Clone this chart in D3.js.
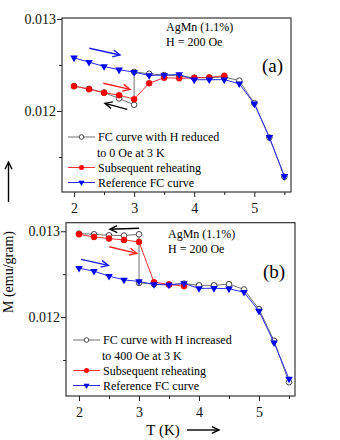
<!DOCTYPE html>
<html>
<head>
<meta charset="utf-8">
<script src="https://cdn.jsdelivr.net/npm/d3@7"></script>
<style>
  body { margin: 0; background: #fff; }
  svg { display: block; font-family: "Liberation Serif", "DejaVu Serif", serif; }
</style>
</head>
<body>
<svg id="chart" width="340" height="440"></svg>
<script>
// temperatures (K)
const temps = [2, 2.25, 2.5, 2.75, 3, 3.25, 3.5, 3.75, 4, 4.25, 4.5, 4.75, 5, 5.25, 5.5];

// panel (a): H reduced to 0 Oe at 3 K
const refA = [0.012578, 0.01253, 0.012484, 0.012448, 0.012422, 0.012386, 0.01239, 0.012397, 0.012339, 0.01234, 0.01234, 0.012296, 0.012078, 0.011715, 0.011291];
const reheatTempsA = [2, 2.25, 2.5, 2.75, 3, 3.25, 3.5, 3.75, 4, 4.25, 4.5];
const reheatA = [0.01227, 0.012237, 0.012198, 0.012172, 0.012128, 0.012302, 0.012361, 0.012355, 0.01236, 0.012365, 0.012383];
const fcTempsA = [5.5, 5.25, 5, 4.75, 4.5, 4.25, 4, 3.75, 3.5, 3.25, 3, 3, 2.75, 2.5, 2.25, 2];
const fcA = [0.011285, 0.011712, 0.012085, 0.01233, 0.01237, 0.012362, 0.01236, 0.01238, 0.01239, 0.012404, 0.012425, 0.012067, 0.012136, 0.0122, 0.01224, 0.01227];

// panel (b): H increased to 400 Oe at 3 K
const refB = [0.01257, 0.012535, 0.012477, 0.012434, 0.012415, 0.01238, 0.012375, 0.012392, 0.012334, 0.012336, 0.01233, 0.01229, 0.01207, 0.011702, 0.011279];
const reheatTempsB = [2, 2.25, 2.5, 2.75, 3, 3.25, 3.5, 3.75];
const reheatB = [0.012965, 0.012934, 0.012915, 0.012899, 0.012876, 0.012407, 0.01238, 0.01236];
const fcTempsB = [5.5, 5.25, 5, 4.75, 4.5, 4.25, 4, 3.75, 3.5, 3.25, 3, 3, 2.75, 2.5, 2.25, 2];
const fcB = [0.01124, 0.011725, 0.012093, 0.012322, 0.012384, 0.01237, 0.01237, 0.01239, 0.012378, 0.012385, 0.012399, 0.012965, 0.01295, 0.012953, 0.012965, 0.012973];

// ticks
const xMajor = [2, 3, 4, 5];
const xMinor = [2.5, 3.5, 4.5, 5.5];
const yMajor = [0.012, 0.013];
const yMinor = [0.0115, 0.0125];

// legend texts
const legendA = [["FC curve with H reduced", "to 0 Oe at 3 K"], ["Subsequent reheating"], ["Reference FC curve"]];
const legendB = [["FC curve with H increased", "to 400 Oe at 3 K"], ["Subsequent reheating"], ["Reference FC curve"]];

// arrows [T1, M1, T2, M2] (head at second point)
const arrowsA = [
    { c: "#1a1aff", p: [2.254, 0.012681, 2.765, 0.012608] },
    { c: "#ff2020", p: [2.487, 0.012301, 2.931, 0.012235] },
    { c: "#000", p: [2.886, 0.012018, 2.515, 0.012083] }
];
const arrowsB = [
    { c: "#000", p: [3.0, 0.013035, 2.516, 0.013023] },
    { c: "#ff2020", p: [2.505, 0.01282, 2.962, 0.012743] },
    { c: "#1a1aff", p: [2.033, 0.012673, 2.488, 0.012603] }
];

const svg = d3.select("#chart");

let drawArrow = (g, x1, y1, x2, y2, color) => {
    let ang = Math.atan2(y2 - y1, x2 - x1);
    let len = 8, w = 0.45;
    g.append("line").attr("x1", x1).attr("y1", y1).attr("x2", x2).attr("y2", y2)
        .attr("stroke", color).attr("stroke-width", 1.4);
    let pts = [
        [x2 - len * Math.cos(ang - w), y2 - len * Math.sin(ang - w)],
        [x2, y2],
        [x2 - len * Math.cos(ang + w), y2 - len * Math.sin(ang + w)]
    ];
    g.append("polyline").attr("points", pts.map(p => p.join(",")).join(" "))
        .attr("fill", "none").attr("stroke", color).attr("stroke-width", 1.4);
};

let triangle = d3.symbol().type(d3.symbolTriangle).size(25);
let smallTriangle = d3.symbol().type(d3.symbolTriangle).size(16);

function drawPanel(cfg) {
    const x = d3.scaleLinear().domain(cfg.xDom).range([cfg.left, cfg.right]);
    const y = d3.scaleLinear().domain(cfg.yDom).range([cfg.bottom, cfg.top]);
    const g = svg.append("g");

    // axes
    let ax = g.append("g").attr("transform", `translate(0,${cfg.bottom})`)
        .call(d3.axisBottom(x).tickValues(xMajor).tickSize(5).tickSizeOuter(0).tickFormat(d3.format("d")));
    let axm = g.append("g").attr("transform", `translate(0,${cfg.bottom})`)
        .call(d3.axisBottom(x).tickValues(xMinor).tickSize(3).tickSizeOuter(0).tickFormat(""));
    let ay = g.append("g").attr("transform", `translate(${cfg.left},0)`)
        .call(d3.axisLeft(y).tickValues(yMajor).tickSize(5).tickSizeOuter(0).tickFormat(d3.format(".3f")));
    let aym = g.append("g").attr("transform", `translate(${cfg.left},0)`)
        .call(d3.axisLeft(y).tickValues(yMinor).tickSize(3).tickSizeOuter(0).tickFormat(""));
    [ax, axm, ay, aym].forEach(a => {
        a.select(".domain").remove();
        a.selectAll("line").attr("stroke", "#222");
        a.selectAll("text").attr("font-family", "Liberation Serif").attr("font-size", 14).attr("fill", "#111");
    });
    ax.selectAll("text").attr("dy", "0.9em");
    ay.selectAll("text").attr("x", -6);

    g.append("rect").attr("x", cfg.left).attr("y", cfg.top)
        .attr("width", cfg.right - cfg.left).attr("height", cfg.bottom - cfg.top)
        .attr("fill", "none").attr("stroke", "#222").attr("stroke-width", 1.1);

    let line = d3.line().x(d => x(d[0])).y(d => y(d[1]));

    // FC curve (gray line, open circles)
    let fc = cfg.fcT.map((t, i) => [t, cfg.fc[i]]);
    g.append("path").attr("d", line(fc)).attr("fill", "none").attr("stroke", "#707070").attr("stroke-width", 1);
    g.selectAll(".oc").data(fc).enter().append("circle")
        .attr("cx", d => x(d[0])).attr("cy", d => y(d[1])).attr("r", 2.8)
        .attr("fill", "#fff").attr("stroke", "#333").attr("stroke-width", 0.9);

    // reheating (red)
    let rh = cfg.rhT.map((t, i) => [t, cfg.rh[i]]);
    g.append("path").attr("d", line(rh)).attr("fill", "none").attr("stroke", "#ff3030").attr("stroke-width", 1);
    g.selectAll(".rc").data(rh).enter().append("circle")
        .attr("cx", d => x(d[0])).attr("cy", d => y(d[1])).attr("r", 3)
        .attr("fill", "#f00").attr("stroke", "#e00000").attr("stroke-width", 0.5);

    // reference FC (blue)
    let rf = temps.map((t, i) => [t, cfg.ref[i]]);
    g.append("path").attr("d", line(rf)).attr("fill", "none").attr("stroke", "#2a2aff").attr("stroke-width", 1);
    g.selectAll(".tr").data(rf).enter().append("path")
        .attr("d", triangle)
        .attr("transform", d => `translate(${x(d[0])},${y(d[1])}) rotate(180)`)
        .attr("fill", "#0000f0");

    // arrows
    cfg.arrows.forEach(a => drawArrow(g, x(a.p[0]), y(a.p[1]), x(a.p[2]), y(a.p[3]), a.c));

    // annotation
    g.append("text").attr("x", cfg.annX).attr("y", cfg.annY).attr("font-size", 12).text("AgMn (1.1%)");
    g.append("text").attr("x", cfg.annX).attr("y", cfg.annY + 15).attr("font-size", 12).text("H = 200 Oe");
    g.append("text").attr("x", cfg.labX).attr("y", cfg.labY).attr("font-size", 19).text(cfg.label);

    // legend
    let ly = cfg.legY;
    let lx = cfg.legX;
    let items = [
        { c: "#707070", kind: "open", text: cfg.legend[0] },
        { c: "#ff3030", kind: "red", text: cfg.legend[1] },
        { c: "#2a2aff", kind: "tri", text: cfg.legend[2] }
    ];
    items.forEach(it => {
        g.append("line").attr("x1", lx).attr("x2", lx + 27).attr("y1", ly).attr("y2", ly)
            .attr("stroke", it.c).attr("stroke-width", 1);
        if (it.kind === "open") {
            g.append("circle").attr("cx", lx + 13.5).attr("cy", ly).attr("r", 2.3)
                .attr("fill", "#fff").attr("stroke", "#333").attr("stroke-width", 0.9);
        } else if (it.kind === "red") {
            g.append("circle").attr("cx", lx + 13.5).attr("cy", ly).attr("r", 2.5).attr("fill", "#f00");
        } else {
            g.append("path").attr("d", smallTriangle).attr("transform", `translate(${lx + 13.5},${ly}) rotate(180)`).attr("fill", "#0000f0");
        }
        it.text.forEach((t, k) => {
            g.append("text").attr("x", lx + 30 - (k > 0 ? 1 : 0)).attr("y", ly + 4 + k * 15.5)
                .attr("font-size", 12).text(t);
        });
        ly += it.text.length > 1 ? 30.5 : 15;
    });
}

drawPanel({
    xDom: [1.8, 5.61], yDom: [0.01112, 0.01301],
    left: 62, right: 291, top: 18, bottom: 192,
    ref: refA, rhT: reheatTempsA, rh: reheatA, fcT: fcTempsA, fc: fcA,
    arrows: arrowsA, annX: 166, annY: 31, labX: 262, labY: 72, label: "(a)",
    legX: 68, legY: 137, legend: legendA
});

drawPanel({
    xDom: [1.783, 5.6], yDom: [0.01108, 0.0131],
    left: 66, right: 295, top: 222.7, bottom: 396,
    ref: refB, rhT: reheatTempsB, rh: reheatB, fcT: fcTempsB, fc: fcB,
    arrows: arrowsB, annX: 168, annY: 238, labX: 263, labY: 278, label: "(b)",
    legX: 73, legY: 340, legend: legendB
});

// axis titles with arrows
svg.append("text").attr("transform", "translate(13,272) rotate(-90)")
    .attr("text-anchor", "middle").attr("font-size", 14).text("M (emu/gram)");
drawArrow(svg, 8.5, 202, 8.5, 162, "#000");
svg.append("text").attr("x", 163).attr("y", 435).attr("text-anchor", "middle").attr("font-size", 15).text("T (K)");
drawArrow(svg, 187, 430, 219, 430, "#000");
</script>
</body>
</html>
